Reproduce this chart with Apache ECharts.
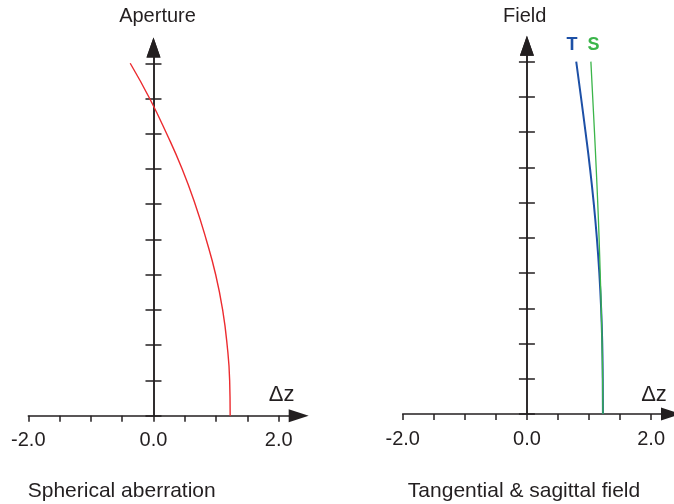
<!DOCTYPE html>
<html>
<head>
<meta charset="utf-8">
<script src="https://cdn.jsdelivr.net/npm/echarts@6/dist/echarts.min.js"></script>
<style>
  html, body { margin: 0; padding: 0; background: #fff; }
  #chart { width: 674px; height: 504px; }
</style>
</head>
<body>
<div id="chart"></div>
<script>
// Spherical aberration: longitudinal focus shift versus normalised aperture height
const apertureHeights = [0, 0.1, 0.2, 0.3, 0.4, 0.5, 0.6, 0.7, 0.8, 0.9, 1.0];
const sphericalDz     = [1.225, 1.217, 1.177, 1.105, 0.994, 0.842, 0.666, 0.458, 0.211, -0.061, -0.372];

// Field curvature: tangential (T) and sagittal (S) focus versus normalised field height
const fieldHeights = [0, 0.1, 0.2, 0.3, 0.4, 0.5, 0.6, 0.7, 0.8, 0.9, 1.0];
const tangentialDz = [1.224, 1.221, 1.213, 1.195, 1.166, 1.126, 1.075, 1.014, 0.944, 0.870, 0.794];
const sagittalDz   = [1.224, 1.219, 1.21, 1.197, 1.18, 1.162, 1.14, 1.115, 1.088, 1.059, 1.03];

// Axis ticks and labels
const xTickValues  = [-2, -1.5, -1, -0.5, 0, 0.5, 1, 1.5, 2];
const xLabelValues = [-2, 0, 2];
const yTickValues  = [0, 0.1, 0.2, 0.3, 0.4, 0.5, 0.6, 0.7, 0.8, 0.9, 1.0];

const INK = '#231f20';
const FONT = '"Liberation Sans", Arial, Helvetica, sans-serif';

const pairs = (xs, ys) => xs.map((x, i) => [x, ys[i]]);

function xAxisFor(gridIndex) {
  return {
    type: 'value', gridIndex: gridIndex, min: -2, max: 2.32,
    axisLine: { show: true, onZero: false, symbol: ['none', 'triangle'], symbolSize: [13, 20],
      lineStyle: { color: INK, width: 1.5 } },
    axisTick: { show: true, inside: false, length: 6, customValues: xTickValues,
      lineStyle: { color: INK, width: 1.5 } },
    axisLabel: { show: true, customValues: xLabelValues, margin: 15,
      formatter: v => v.toFixed(1), color: INK, fontSize: 20, fontFamily: FONT },
    splitLine: { show: false }
  };
}

function yAxisFor(gridIndex, position) {
  return {
    type: 'value', gridIndex: gridIndex, min: 0, max: 1.045, position: position,
    axisLine: { show: true, onZero: true, onZeroAxisIndex: gridIndex,
      symbol: ['none', 'triangle'], symbolSize: [14, 20],
      lineStyle: { color: INK, width: 1.5 } },
    axisTick: { show: true, inside: false, length: 8, customValues: yTickValues,
      lineStyle: { color: INK, width: 1.5 } },
    axisLabel: { show: false },
    splitLine: { show: false }
  };
}

function text(str, x, y, size, color, weight) {
  return { type: 'text', x: x, y: y, silent: true,
    style: { text: str, fill: color || INK, align: 'center', verticalAlign: 'middle',
      font: (weight || 'normal') + ' ' + size + 'px ' + FONT } };
}

const chart = echarts.init(document.getElementById('chart'), null, { renderer: 'canvas' });

chart.setOption({
  animation: false,
  backgroundColor: '#ffffff',
  grid: [
    { left: 28.3, right: 375.3, top: 47.4, bottom: 88.3 },
    { left: 402.7, right: 3, top: 45.8, bottom: 90 }
  ],
  xAxis: [xAxisFor(0), xAxisFor(1)],
  yAxis: [yAxisFor(0, 'left'), yAxisFor(0, 'right'), yAxisFor(1, 'left'), yAxisFor(1, 'right')],
  series: [
    { name: 'Spherical aberration', type: 'line', xAxisIndex: 0, yAxisIndex: 0,
      data: pairs(sphericalDz, apertureHeights), smooth: 0.5, showSymbol: false,
      lineStyle: { color: '#ec2b2f', width: 1.4 } },
    { name: 'T', type: 'line', xAxisIndex: 1, yAxisIndex: 2,
      data: pairs(tangentialDz, fieldHeights), smooth: 0.5, showSymbol: false,
      lineStyle: { color: '#1d50a6', width: 2 } },
    { name: 'S', type: 'line', xAxisIndex: 1, yAxisIndex: 2,
      data: pairs(sagittalDz, fieldHeights), smooth: 0.5, showSymbol: false,
      lineStyle: { color: '#3bb54a', width: 1.3 } }
  ],
  graphic: [
    text('Aperture', 157.5, 16, 20),
    text('Field', 524.7, 16, 20),
    text('\u0394z', 281.7, 395, 22),
    text('\u0394z', 654, 394.5, 22),
    text('Spherical aberration', 121.7, 491, 21),
    text('Tangential & sagittal field', 524, 491, 21),
    text('T', 572, 45, 18, '#1d50a6', 'bold'),
    text('S', 593.5, 45, 18, '#3bb54a', 'bold')
  ]
});
</script>
</body>
</html>
